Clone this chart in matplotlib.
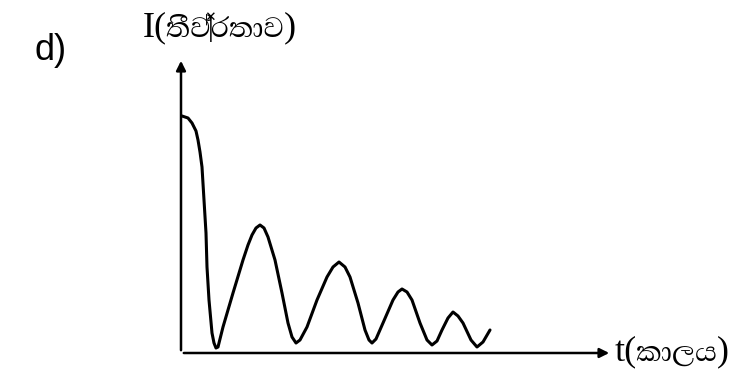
import matplotlib
matplotlib.use("Agg")
from matplotlib import pyplot as plt
from matplotlib import font_manager

# curve (t, I) in arbitrary units
t = [1, 7, 11, 15, 17, 19, 21, 23, 25, 26, 28, 31, 33, 35, 37, 42, 52, 62, 67, 71, 75, 79,
     83, 87, 94, 101, 107, 111, 115, 119, 126, 136, 146, 152, 158, 164, 169, 177, 184,
     188, 191, 195, 202, 212, 217, 221, 226, 231, 239, 246, 251, 256, 261, 267, 272,
     277, 282, 290, 296, 302, 309]
I = [237, 235, 230, 222, 213, 201, 186, 153, 120, 86, 53, 20, 10, 5, 6, 26, 60, 93, 108,
     118, 125, 128, 125, 116, 93, 60, 30, 16, 10, 13, 26, 53, 76, 86, 91, 86, 76, 50, 23,
     13, 10, 14, 30, 53, 61, 64, 61, 53, 30, 13, 8, 12, 23, 35, 41, 37, 30, 13, 6, 11, 23]

sinhala = [f.name for f in font_manager.fontManager.ttflist if "Abhaya" in f.name]
sinhala = sinhala[:1] or ["FreeSerif"]

fig = plt.figure(figsize=(7.46, 3.70), dpi=100)
ax = fig.add_axes([181/746, (370-353)/370, (612-181)/746, (353-58)/370])
ax.plot(t, I, color="black", lw=2.2, solid_capstyle="round", solid_joinstyle="round")
ax.set_xlim(0, 431)
ax.set_ylim(0, 295)
ax.axis("off")

# axes with arrow heads
ax.annotate("", xy=(1, 0), xytext=(0, 0), xycoords="axes fraction",
            arrowprops=dict(arrowstyle="-|>", color="black", lw=1.8, mutation_scale=14))
ax.annotate("", xy=(0, 1), xytext=(0, 0), xycoords="axes fraction",
            arrowprops=dict(arrowstyle="-|>", color="black", lw=1.8, mutation_scale=14))

fam = ["Liberation Serif"] + sinhala + ["DejaVu Sans"]
fig.text(143/746, 1 - 28/370, "I(තීව්‍රතාව)", fontsize=26, va="center", ha="left", family=fam)
fig.text(615/746, 1 - 352/370, "t(කාලය)", fontsize=26, va="center", ha="left", family=fam)
fig.text(35/746, 1 - 50/370, "d)", fontsize=26, va="center", ha="left",
         family="Liberation Sans")

fig.savefig("out.png", dpi=100, facecolor="white")
